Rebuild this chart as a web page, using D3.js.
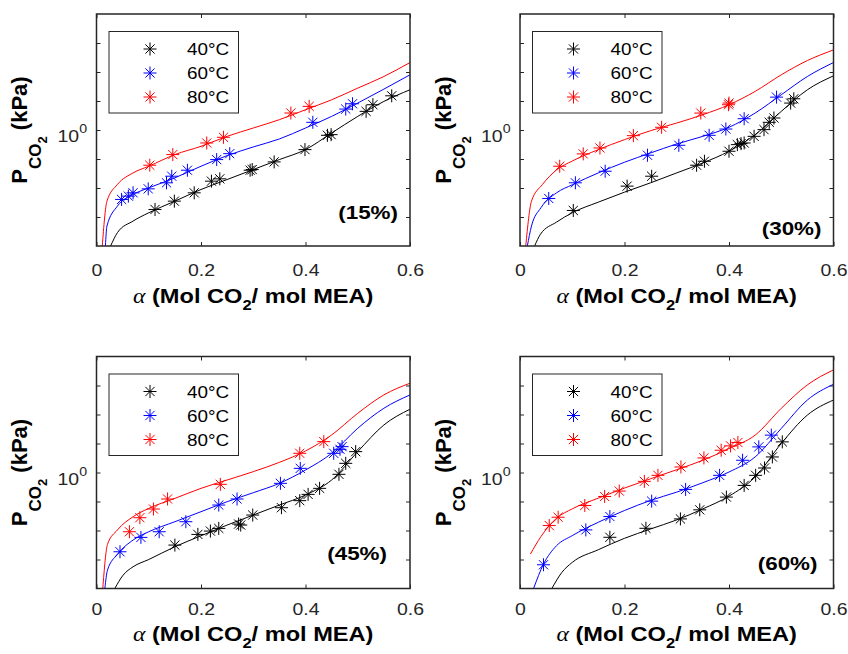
<!DOCTYPE html>
<meta charset="utf-8">
<style>

body {
    margin: 0;
    background: #fff;
}

.chart {
    font-family: "Liberation Sans", Arial, sans-serif;
}

.axis path {
    display: none;
}

.axis line {
    stroke: #262626;
}

.axis text {
    font-size: 16.5px;
    fill: #262626;
}

.frame {
    fill: none;
    stroke: #262626;
    stroke-width: 1.5;
}

.fit {
    fill: none;
    stroke-width: 1;
}

.mark {
    fill: none;
    stroke-width: 1;
}

.lab {
    font-weight: bold;
    font-size: 20px;
    fill: #000;
}

.tag {
    font-weight: bold;
    font-size: 19px;
    fill: #000;
}

.legend-box {
    fill: #fff;
    stroke: #262626;
    stroke-width: 1;
}

.legend text {
    font-size: 16px;
    fill: #000;
}

</style>
<svg class="chart" width="848" height="654"></svg>
<script src="https://d3js.org/d3.v7.min.js"></script>
<script>

// series labels and axis ticks
var temps = ["40\u00b0C", "60\u00b0C", "80\u00b0C"];
var tags = ["(15%)", "(30%)", "(45%)", "(60%)"];
var xTicks = [0, 0.2, 0.4, 0.6];
var yTicks = [1e-3, 1e-2, 1e-1, 1e0, 1e1, 1e2, 1e3];

// experimental points [alpha, P_CO2 (kPa)]
var pts15_40 = [[0.112,0.00182],[0.149,0.00352],[0.187,0.00682],[0.220,0.0172],[0.236,0.0207],[0.294,0.0410],[0.298,0.0433],[0.340,0.0794],[0.399,0.211],[0.442,0.656],[0.449,0.692],[0.516,4.39],[0.529,7.43],[0.565,15.1]];
var pts15_60 = [[0.048,0.00403],[0.061,0.00524],[0.070,0.00682],[0.099,0.00936],[0.134,0.0151],[0.144,0.0255],[0.174,0.0410],[0.230,0.0955],[0.255,0.153],[0.414,1.84],[0.477,5.27],[0.490,8.04]];
var pts15_80 = [[0.102,0.0610],[0.146,0.142],[0.211,0.357],[0.243,0.560],[0.372,3.85],[0.407,6.52]];

var pts30_40 = [[0.102,0.00168],[0.205,0.0116],[0.252,0.0255],[0.338,0.0610],[0.353,0.0837],[0.400,0.185],[0.416,0.313],[0.423,0.339],[0.429,0.357],[0.448,0.605],[0.467,1.03],[0.477,1.84],[0.486,2.59],[0.518,8.48],[0.524,11.9]];
var pts30_60 = [[0.055,0.00435],[0.106,0.0151],[0.163,0.0379],[0.244,0.135],[0.304,0.297],[0.362,0.656],[0.394,1.08],[0.429,2.45],[0.491,13.6]];
var pts30_80 = [[0.076,0.0563],[0.121,0.150],[0.153,0.240],[0.217,0.638],[0.271,1.24],[0.346,3.84],[0.399,7.43],[0.400,8.48]];

var pts45_40 = [[0.150,0.00314],[0.194,0.00733],[0.218,0.00955],[0.234,0.0118],[0.272,0.0167],[0.276,0.0154],[0.299,0.0341],[0.354,0.0611],[0.389,0.107],[0.405,0.176],[0.427,0.284],[0.464,0.865],[0.477,2.07],[0.496,5.24]];
var pts45_60 = [[0.045,0.00185],[0.085,0.00578],[0.120,0.00906],[0.171,0.0201],[0.234,0.0755],[0.269,0.122],[0.352,0.423],[0.390,1.39],[0.454,4.59],[0.466,6.31],[0.470,7.80]];
var pts45_80 = [[0.063,0.00906],[0.083,0.0276],[0.109,0.0550],[0.136,0.122],[0.237,0.390],[0.389,4.59],[0.435,11.6]];

var pts60_40 = [[0.172,0.00583],[0.241,0.0119],[0.307,0.0251],[0.344,0.0516],[0.395,0.142],[0.429,0.359],[0.451,0.798],[0.468,1.43],[0.483,3.44],[0.502,11.4]];
var pts60_60 = [[0.045,0.000659],[0.126,0.0105],[0.172,0.0303],[0.252,0.103],[0.317,0.261],[0.382,0.798],[0.426,2.64],[0.457,7.64],[0.481,19.4]];
var pts60_80 = [[0.056,0.0148],[0.073,0.0287],[0.124,0.0729],[0.162,0.149],[0.190,0.229],[0.238,0.495],[0.264,0.798],[0.308,1.55],[0.352,3.18],[0.385,5.86],[0.403,8.28],[0.417,10.8]];

// model curves [alpha, P_CO2 (kPa)]
var fit15_40 = [[0.027,1e-4],[0.04,0.000288],[0.07,0.000724],[0.1,0.0014],[0.15,0.00352],[0.2,0.00887],[0.25,0.0196],[0.3,0.0433],[0.35,0.0955],[0.4,0.211],[0.45,0.789],[0.5,2.95],[0.55,9.68],[0.6,24.4]];
var fit15_60 = [[0.017,1e-4],[0.02,0.000487],[0.04,0.00237],[0.07,0.00597],[0.1,0.0101],[0.15,0.0224],[0.2,0.0563],[0.25,0.131],[0.3,0.260],[0.35,0.491],[0.4,1.17],[0.45,2.95],[0.5,8.48],[0.55,25.7],[0.6,80.0]];
var fit15_80 = [[0.011,1e-4],[0.02,0.00352],[0.04,0.0132],[0.07,0.0332],[0.1,0.0563],[0.15,0.142],[0.2,0.274],[0.25,0.605],[0.3,1.17],[0.35,2.27],[0.4,5.00],[0.45,11.0],[0.5,27.8],[0.55,70.0],[0.6,212]];

var fit30_40 = [[0.028,1e-4],[0.039,0.000252],[0.07,0.000668],[0.1,0.0014],[0.15,0.00326],[0.2,0.00719],[0.25,0.0151],[0.3,0.0332],[0.35,0.0733],[0.4,0.185],[0.45,0.691],[0.5,4.38],[0.55,24.4],[0.6,73.8]];
var fit30_60 = [[0.014,1e-4],[0.022,0.000487],[0.04,0.00208],[0.07,0.00682],[0.1,0.0129],[0.15,0.0332],[0.2,0.0773],[0.25,0.162],[0.3,0.330],[0.35,0.605],[0.4,1.24],[0.45,3.84],[0.5,16.4],[0.55,70.0],[0.6,212]];
var fit30_80 = [[0.011,1e-4],[0.022,0.00352],[0.043,0.0132],[0.07,0.0420],[0.1,0.0850],[0.15,0.211],[0.2,0.465],[0.25,0.949],[0.3,1.74],[0.35,3.37],[0.4,7.43],[0.45,21.4],[0.5,80.0],[0.55,248],[0.6,578]];

var fit45_40 = [[0.035,1e-4],[0.051,0.000289],[0.07,0.000561],[0.1,0.00100],[0.15,0.00275],[0.2,0.00659],[0.25,0.0154],[0.3,0.0341],[0.35,0.0755],[0.4,0.167],[0.45,0.551],[0.5,5.24],[0.55,43.6],[0.6,152]];
var fit45_60 = [[0.016,1e-4],[0.021,0.000430],[0.04,0.00150],[0.07,0.00468],[0.1,0.00906],[0.15,0.0201],[0.2,0.0445],[0.25,0.0985],[0.3,0.201],[0.35,0.423],[0.4,1.22],[0.45,4.59],[0.5,33.5],[0.55,164],[0.6,473]];
var fit45_80 = [[0.012,1e-4],[0.021,0.00331],[0.04,0.0104],[0.07,0.0299],[0.1,0.0579],[0.15,0.128],[0.2,0.284],[0.25,0.551],[0.3,1.07],[0.35,2.24],[0.4,5.52],[0.45,19.7],[0.5,110],[0.55,474],[0.6,1200]];

var fit60_40 = [[0.061,1e-4],[0.08,0.000357],[0.1,0.000794],[0.15,0.00218],[0.2,0.00538],[0.25,0.0113],[0.3,0.0232],[0.35,0.0558],[0.4,0.153],[0.45,0.698],[0.5,9.98],[0.55,95.5],[0.6,316]];
var fit60_60 = [[0.026,1e-4],[0.045,0.000695],[0.07,0.00300],[0.1,0.00665],[0.15,0.0193],[0.2,0.0489],[0.25,0.109],[0.3,0.211],[0.35,0.445],[0.4,1.04],[0.45,3.44],[0.5,33.0],[0.55,316],[0.6,1100]];
var fit60_80 = [[0.020,0.00154],[0.04,0.00615],[0.07,0.0265],[0.1,0.0558],[0.15,0.131],[0.2,0.290],[0.25,0.611],[0.3,1.25],[0.35,2.64],[0.4,6.69],[0.45,19.4],[0.5,163],[0.55,1050],[0.6,3460]];

var colors = ["#000000", "#0000ff", "#ff0000"];

var svg = d3.select("svg"),
    pw = 313.5,
    ph = 232,
    sx = 1.18;   // the source figure's text is a bit wide

var x = d3.scaleLinear().domain([0, 0.6]).range([0, pw]),
    y = d3.scaleLog().domain([1e-4, 1e4]).range([ph, 0]);

var panels = [
    {pts: [pts15_40, pts15_60, pts15_80], fit: [fit15_40, fit15_60, fit15_80], left: 96.5, top: 14, tagX: pw - 12, tagY: 205, tickPad: 18, xlY: 56.5},
    {pts: [pts30_40, pts30_60, pts30_80], fit: [fit30_40, fit30_60, fit30_80], left: 520, top: 14, tagX: pw - 12, tagY: 221, tickPad: 18, xlY: 56.5},
    {pts: [pts45_40, pts45_60, pts45_80], fit: [fit45_40, fit45_60, fit45_80], left: 96.5, top: 356.5, tagX: pw - 23, tagY: 203, tickPad: 15, xlY: 52},
    {pts: [pts60_40, pts60_60, pts60_80], fit: [fit60_40, fit60_60, fit60_80], left: 520, top: 356.5, tagX: pw - 16, tagY: 213, tickPad: 15, xlY: 52}
];

var line = d3.line()
    .x(function(d) { return x(d[0]); })
    .y(function(d) { return y(d[1]); })
    .curve(d3.curveMonotoneX);

// matlab style '*' marker
function star(r) {
    var d = r * Math.SQRT1_2;
    return "M" + (-r) + ",0H" + r + "M0," + (-r) + "V" + r +
        "M" + (-d) + "," + (-d) + "L" + d + "," + d +
        "M" + (-d) + "," + d + "L" + d + "," + (-d);
}

function at(px, py) {
    return "translate(" + px + "," + py + ") scale(" + sx + ",1)";
}

panels.forEach(function(p, i) {
    var g = svg.append("g")
        .attr("transform", "translate(" + p.left + "," + p.top + ")");

    g.append("clipPath")
        .attr("id", "clip" + i)
        .append("rect")
        .attr("width", pw)
        .attr("height", ph);

    // ticks, all inside the box
    g.append("g")
        .attr("class", "axis")
        .attr("transform", "translate(0," + ph + ")")
        .call(d3.axisBottom(x).tickValues(xTicks).tickSizeInner(-4).tickSizeOuter(0)
            .tickPadding(p.tickPad).tickFormat(function(d) { return d === 0 ? "0" : d3.format(".1f")(d); }))
        .selectAll("text")
        .attr("transform", "scale(" + sx + ",1)");

    g.append("g")
        .attr("class", "axis")
        .call(d3.axisTop(x).tickValues(xTicks).tickSizeInner(-4).tickSizeOuter(0).tickFormat(""));

    g.append("g")
        .attr("class", "axis")
        .call(d3.axisLeft(y).tickValues(yTicks).tickSizeInner(-4).tickSizeOuter(0).tickFormat(""));

    g.append("g")
        .attr("class", "axis")
        .attr("transform", "translate(" + pw + ",0)")
        .call(d3.axisRight(y).tickValues(yTicks).tickSizeInner(-4).tickSizeOuter(0).tickFormat(""));

    // only 10^0 carries a label
    var t0 = g.append("text")
        .attr("transform", at(-9.5, y(1) + 12))
        .attr("text-anchor", "end")
        .style("font-size", "16.5px")
        .style("fill", "#262626");
    t0.append("tspan").text("10");
    t0.append("tspan").attr("dy", -9).style("font-size", "12px").text("0");

    var plot = g.append("g").attr("clip-path", "url(#clip" + i + ")");

    p.fit.forEach(function(f, k) {
        plot.append("path")
            .datum(f)
            .attr("class", "fit")
            .attr("stroke", colors[k])
            .attr("d", line);
    });

    p.pts.forEach(function(s, k) {
        g.selectAll(".m" + k)
            .data(s)
            .enter()
            .append("path")
            .attr("class", "mark m" + k)
            .attr("stroke", colors[k])
            .attr("transform", function(d) { return "translate(" + x(d[0]) + "," + y(d[1]) + ")"; })
            .attr("d", star(6.5));
    });

    g.append("rect")
        .attr("class", "frame")
        .attr("width", pw)
        .attr("height", ph);

    // legend
    var lg = g.append("g")
        .attr("class", "legend")
        .attr("transform", "translate(12.5,17.5)");

    lg.append("rect")
        .attr("class", "legend-box")
        .attr("width", 129.5)
        .attr("height", 81.5);

    temps.forEach(function(t, k) {
        lg.append("path")
            .attr("class", "mark")
            .attr("stroke", colors[k])
            .attr("transform", "translate(41," + (17.5 + k * 24) + ")")
            .attr("d", star(6.5));
        lg.append("text")
            .attr("transform", at(78, 17.5 + k * 24 + 6))
            .text(t);
    });

    g.append("text")
        .attr("class", "tag")
        .attr("transform", at(p.tagX, p.tagY))
        .attr("text-anchor", "end")
        .text(tags[i]);

    // axis titles
    var yl = g.append("text")
        .attr("class", "lab")
        .attr("text-anchor", "middle")
        .style("font-size", "22px")
        .attr("transform", "translate(-69.5," + (ph / 2) + ") rotate(-90)");
    yl.append("tspan").text("P");
    yl.append("tspan").attr("dy", 14).style("font-size", "17px").text("CO");
    yl.append("tspan").attr("dy", 6).style("font-size", "13px").text("2");
    yl.append("tspan").attr("dy", -20).text(" (kPa)");

    var xl = g.append("text")
        .attr("class", "lab")
        .attr("text-anchor", "middle")
        .attr("transform", at(pw / 2, ph + p.xlY));
    xl.append("tspan").style("font-family", "'Liberation Serif', serif").style("font-weight", "normal")
        .style("font-style", "italic").text("\u03b1");
    xl.append("tspan").text(" (Mol CO");
    xl.append("tspan").attr("dy", 7).style("font-size", "14px").text("2");
    xl.append("tspan").attr("dy", -7).text("/ mol MEA)");
});

</script>
